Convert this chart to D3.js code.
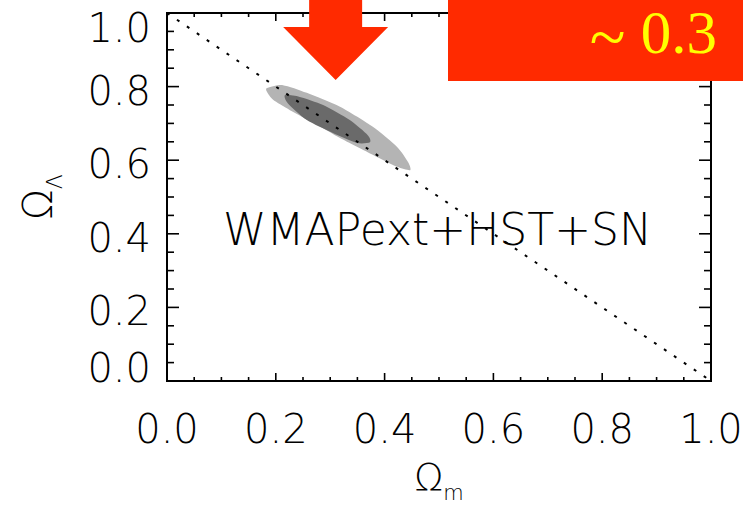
<!DOCTYPE html>
<html><head><meta charset="utf-8">
<script src="https://cdn.jsdelivr.net/npm/d3@7"></script>
<style>body{margin:0;background:#fff;overflow:hidden}</style>
</head><body><svg id="c" width="743" height="507"></svg>
<script>
// ---- data ----
const majorTicks = [0.0, 0.2, 0.4, 0.6, 0.8, 1.0];
const tickLabels = ["0.0", "0.2", "0.4", "0.6", "0.8", "1.0"];
const flatM = [0.0, 1.0];      // flat universe line Ωm + ΩΛ = 1
const flatL = [1.0, 0.0];
const outerM = [0.184, 0.213, 0.257, 0.318, 0.379, 0.423, 0.443, 0.447, 0.423, 0.379, 0.318, 0.276, 0.226, 0.195, 0.184];
const outerL = [0.796, 0.804, 0.783, 0.745, 0.690, 0.636, 0.595, 0.573, 0.582, 0.614, 0.660, 0.696, 0.736, 0.764, 0.785];
const innerM = [0.217, 0.244, 0.287, 0.336, 0.369, 0.373, 0.349, 0.305, 0.257, 0.222];
const innerL = [0.777, 0.772, 0.750, 0.709, 0.668, 0.649, 0.647, 0.674, 0.709, 0.755];
const panelLabel = "WMAPext+HST+SN";
const calloutTilde = "~";
const calloutValue = " 0.3";
const arrowTargetM = 0.31;

// ---- layout ----
const svg = d3.select("#c");
const L = 167, R = 711, T = 13, B = 381;
const x = d3.scaleLinear().domain([0, 1]).range([L, R]);
const y = d3.scaleLinear().domain([0, 1]).range([B, T]);
const font = "'DejaVu Sans', sans-serif";

const line = d3.line().x(d => x(d[0])).y(d => y(d[1])).curve(d3.curveCardinalClosed.tension(0.3));
svg.append("path").attr("d", line(outerM.map((m, i) => [m, outerL[i]])))
  .attr("fill", "#b4b4b4");
svg.append("path").attr("d", line(innerM.map((m, i) => [m, innerL[i]])))
  .attr("fill", "#6a6a6a");

// flat line
svg.append("path").attr("d", d3.line().x(d => x(d[0])).y(d => y(d[1]))(flatM.map((m, i) => [m, flatL[i]])))
  .attr("stroke", "#000").attr("stroke-width", 2).attr("stroke-dasharray", "3,9").attr("fill", "none");

// frame
svg.append("rect").attr("x", L).attr("y", T).attr("width", R - L).attr("height", B - T)
  .attr("fill", "none").attr("stroke", "#000").attr("stroke-width", 2);

// ticks
const minor = x.ticks(20);
const g = svg.append("g").attr("stroke", "#000").attr("stroke-width", 1.6);
minor.forEach(t => {
  const isMaj = majorTicks.some(m => Math.abs(m - t) < 1e-9);
  const hl = isMaj ? 8 : 4, vl = isMaj ? 12 : 7;
  g.append("line").attr("x1", x(t)).attr("x2", x(t)).attr("y1", B).attr("y2", B - hl);
  g.append("line").attr("x1", x(t)).attr("x2", x(t)).attr("y1", T).attr("y2", T + hl);
  g.append("line").attr("y1", y(t)).attr("y2", y(t)).attr("x1", L).attr("x2", L + vl);
  g.append("line").attr("y1", y(t)).attr("y2", y(t)).attr("x1", R).attr("x2", R - vl);
});

// tick labels
majorTicks.forEach((t, i) => {
  svg.append("text").attr("x", x(t)).attr("y", 443).attr("text-anchor", "middle")
    .attr("font-family", font).attr("font-weight", 200).attr("font-size", 40).text(tickLabels[i]);
  let yy = y(t) + 3;
  if (t === 1) yy = T + 14; if (t === 0) yy = B - 14;
  svg.append("text").attr("x", 151).attr("y", yy + 15).attr("text-anchor", "end")
    .attr("font-family", font).attr("font-weight", 200).attr("font-size", 40).text(tickLabels[i]);
});

// axis titles
const xt = svg.append("text").attr("x", (L + R) / 2).attr("y", 490).attr("text-anchor", "middle")
  .attr("font-family", font).attr("font-weight", 200).attr("font-size", 38);
xt.append("tspan").text("Ω");
xt.append("tspan").attr("font-size", 21).attr("dy", 10).text("m");
const yt = svg.append("text").attr("transform", `translate(52,${(T + B) / 2}) rotate(-90)`)
  .attr("text-anchor", "middle").attr("font-family", font).attr("font-weight", 200).attr("font-size", 40);
yt.append("tspan").text("Ω");
yt.append("tspan").attr("font-size", 22).attr("dy", 10).text("Λ");

// panel label
svg.append("text").attr("x", x(0.103)).attr("y", 245).attr("font-family", font).attr("font-weight", 200)
  .attr("font-size", 45).attr("textLength", 429).attr("lengthAdjust", "spacingAndGlyphs").text(panelLabel);

// arrow
const tx = x(arrowTargetM), ty = 80;
svg.append("path").attr("fill", "#ff2a00")
  .attr("d", `M${tx - 26.5},0 L${tx + 26.5},0 L${tx + 26.5},27 L${tx + 52.5},27 L${tx},${ty} L${tx - 52.5},27 L${tx - 26.5},27 Z`);

// callout box
svg.append("rect").attr("x", 448).attr("y", 0).attr("width", 295).attr("height", 81).attr("fill", "#ff2a00");
const ct = svg.append("text").attr("x", 717).attr("y", 53).attr("text-anchor", "end")
  .attr("font-family", "'Liberation Serif', Tinos, 'Times New Roman', 'DejaVu Serif', serif").attr("font-size", 61)
  .attr("fill", "#ffff00");
ct.append("tspan").attr("dy", 6).attr("font-size", 66).text(calloutTilde);
ct.append("tspan").attr("dy", -6).text(calloutValue);
</script></body></html>
